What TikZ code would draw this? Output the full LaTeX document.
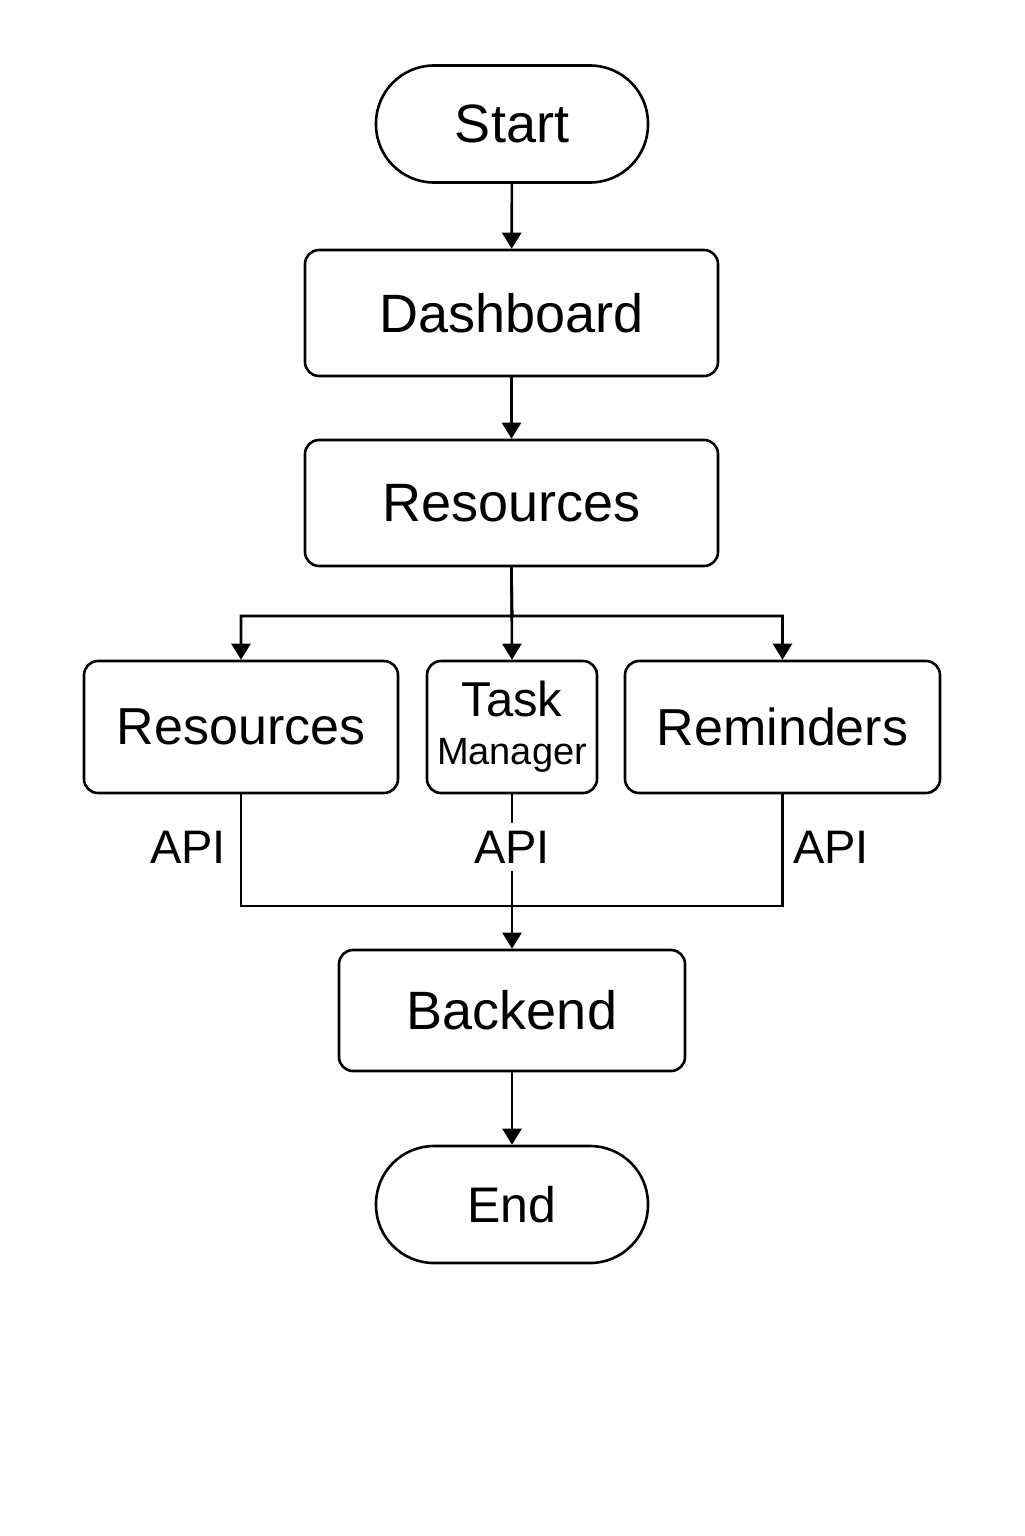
\documentclass[tikz,border=0pt]{standalone}
\usepackage{fontspec}
\setmainfont{Liberation Sans}
\usetikzlibrary{arrows.meta}
\tikzset{
  box/.style={draw, line width=1.3pt, rounded corners=7pt, inner sep=0pt, align=center},
  term/.style={draw, line width=1.3pt, rounded corners=29pt, inner sep=0pt, minimum width=136pt, minimum height=58.5pt},
  conn/.style={line width=1.3pt},
  arr/.style={line width=1.3pt, -{Triangle[length=8pt,width=9.5pt]}},
  big/.style={font=\fontsize{27}{30}\selectfont},
  lbl/.style={font=\fontsize{23.5}{26}\selectfont, inner sep=1pt}
}
\begin{document}
\begin{tikzpicture}[x=0.5pt,y=-0.5pt]
\useasboundingbox (0,0) rectangle (1024,1536);
\node[term, big] (start) at (512,124) {Start};
\node[box, big, minimum width=206.5pt, minimum height=63pt] (dash) at (511.5,313) {Dashboard};
\node[box, big, minimum width=206.5pt, minimum height=63pt] (res) at (511.5,503) {Resources};
\node[box, big, minimum width=157pt, minimum height=66pt] (resL) at (241,727) {\fontsize{26}{30}\selectfont Resources};
\node[box, minimum width=85pt, minimum height=66pt, font=\fontsize{19}{24}\selectfont] (task) at (512,727) {{\fontsize{24.5}{24}\selectfont Task}\\{Manager}};
\node[box, minimum width=157.5pt, minimum height=66pt] (rem) at (782.5,727) {\fontsize{26}{30}\selectfont Reminders};
\node[box, big, minimum width=173pt, minimum height=60.5pt] (back) at (512,1010.5) {Backend};
\node[term, minimum height=58.5pt] (end) at (512,1204.5) {\fontsize{25}{28}\selectfont End};

\coordinate (split) at (512,616);
\coordinate (join) at (512,906);

\draw[arr] (start) -- (dash);
\draw[arr] (dash) -- (res);
\draw[arr] (res.south) -- (task.north);
\draw[arr] (res.south) -- (split) -| (resL.north);
\draw[arr] (res.south) -- (split) -| (rem.north);
\draw[conn] (resL.south) |- (join);
\draw[conn] (rem.south) |- (join);
\draw[arr] (task.south) -- (back.north);
\draw[arr] (back) -- (end);

\node[lbl] (apiL) at (188,847) {API};
\node[lbl] (apiR) at (831,847) {API};
\node[lbl, fill=white, inner sep=4pt] (apiM) at (512,847) {API};
\end{tikzpicture}
\end{document}
